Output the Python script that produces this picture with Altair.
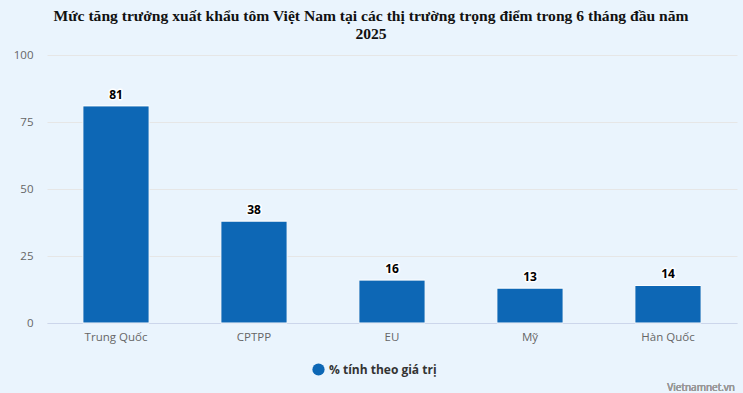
import altair as alt
import pandas as pd

categories = ["Trung Quốc", "CPTPP", "EU", "Mỹ", "Hàn Quốc"]
values = [81, 38, 16, 13, 14]
series_name = "% tính theo giá trị"
y_ticks = [0, 25, 50, 75, 100]

df = pd.DataFrame({"market": categories, "value": values, "series": [series_name] * len(categories)})

FONT = "Open Sans"
BAR = "#0d67b5"

x = alt.X("market:N", sort=categories, title=None,
          scale=alt.Scale(paddingInner=0.52, paddingOuter=0.26),
          axis=alt.Axis(labelAngle=0, labelColor="#666666", labelFontSize=11.5, labelFont=FONT,
                        domainColor="#ccd6eb", ticks=False, labelPadding=8, grid=False))
y = alt.Y("value:Q", title=None,
          scale=alt.Scale(domain=[0, 100], nice=False),
          axis=alt.Axis(values=y_ticks, labelColor="#666666", labelFontSize=11.5, labelFont=FONT,
                        domain=False, ticks=False, gridColor="#e6e6e6", labelPadding=14))

bars = alt.Chart(df).mark_bar(stroke="white", strokeWidth=1).encode(
    x=x, y=y,
    color=alt.Color("series:N", scale=alt.Scale(range=[BAR]), title=None,
                    legend=alt.Legend(orient="none", legendX=265, legendY=308, symbolType="circle",
                                      symbolSize=150, symbolStrokeWidth=0, labelFont=FONT,
                                      labelFontSize=12, labelFontWeight="bold", labelColor="#333333",
                                      symbolFillColor=BAR)),
)

outline = alt.Chart(df).mark_text(dy=-11, fontSize=12, fontWeight="bold", font=FONT,
                                  stroke="white", strokeWidth=3, strokeJoin="round", color="white").encode(
    x=alt.X("market:N", sort=categories), y="value:Q", text="value:Q")
labels = alt.Chart(df).mark_text(dy=-11, fontSize=12, fontWeight="bold", font=FONT, color="#000000").encode(
    x=alt.X("market:N", sort=categories), y="value:Q", text="value:Q")

credit = alt.Chart(df).mark_text(align="right", baseline="bottom", fontSize=10, font=FONT,
                                 color="#999999").encode(
    x=alt.value(688), y=alt.value(338), text=alt.value("Vietnamnet.vn"))

chart = alt.layer(bars, outline, labels, credit).properties(
    width=690, height=268,
    autosize=alt.AutoSizeParams(type="none"),
    padding={"left": 47, "top": 55, "right": 6, "bottom": 70},
    background="#eaf4fd",
    title=alt.TitleParams(
        ["Mức tăng trưởng xuất khẩu tôm Việt Nam tại các thị trường trọng điểm trong 6 tháng đầu năm", "2025"],
        font="Liberation Serif", fontSize=15.6, fontWeight="bold", color="#111111",
        anchor="middle", frame="group", dx=-21, offset=6, lineHeight=18),
).configure_view(stroke=None)

chart.save("out.html", embed_options={"renderer": "svg", "actions": False})
